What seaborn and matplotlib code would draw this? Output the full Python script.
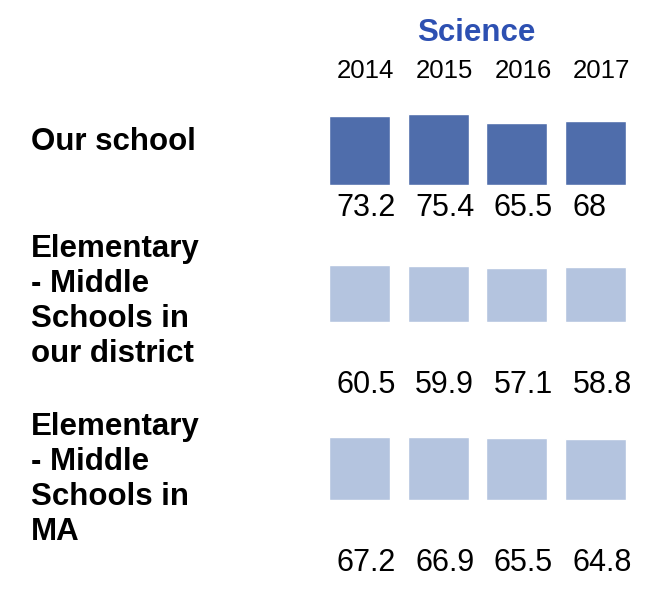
import matplotlib
matplotlib.use('Agg')
import matplotlib.pyplot as plt
import seaborn as sns
import pandas as pd

sns.set_theme(style="white")
plt.rcParams['font.family'] = ['Liberation Sans', 'DejaVu Sans']

# data
years = ['2014', '2015', '2016', '2017']
groups = ['Our school',
          'Elementary\n- Middle\nSchools in\nour district',
          'Elementary\n- Middle\nSchools in\nMA']
our_school = [73.2, 75.4, 65.5, 68]
district = [60.5, 59.9, 57.1, 58.8]
state = [67.2, 66.9, 65.5, 64.8]

dark = '#4F6DAB'
light = '#B4C4DF'
title_blue = '#2D50B2'

W, H = 649, 589
fig = plt.figure(figsize=(W / 100, H / 100), dpi=100)

rows = [
    (our_school, dark, 185, 23, 127),
    (district, light, 322, 63, 234),
    (state, light, 500, 63, 412),
]

ymax = 80
px_per_unit = 0.94
ax_left, ax_width = 320.2, 314.7

for i, (vals, col, base_px, lab_off, txt_top) in enumerate(rows):
    h_px = ymax * px_per_unit
    ax = fig.add_axes([ax_left / W, (H - base_px) / H, ax_width / W, h_px / H])
    df = pd.DataFrame({'year': years, 'value': vals})
    sns.barplot(data=df, x='year', y='value', color=col, saturation=1,
                width=0.775, ax=ax)
    ax.set_ylim(0, ymax)
    ax.set_xlim(-0.5, 3.5)
    ax.axis('off')
    for j, v in enumerate(vals):
        ax.annotate(f'{v:g}', xy=(j, 0), xytext=(-23, -lab_off),
                    textcoords='offset pixels', ha='left', va='center',
                    fontsize=22, color='black', annotation_clip=False)
    if i == 0:
        for j, yr in enumerate(years):
            ax.annotate(yr, xy=(j, 0), xytext=(6, 114),
                        textcoords='offset pixels', ha='center', va='center',
                        fontsize=18.5, color='black', annotation_clip=False)
    fig.text(31 / W, 1 - txt_top / H, groups[i], ha='left', va='top',
             fontsize=22.5, fontweight='bold', color='black', linespacing=1.22)

fig.text(476 / W, 1 - 33 / H, 'Science', ha='center', va='center',
         fontsize=22.5, fontweight='bold', color=title_blue)

fig.savefig('out.png', dpi=100)
